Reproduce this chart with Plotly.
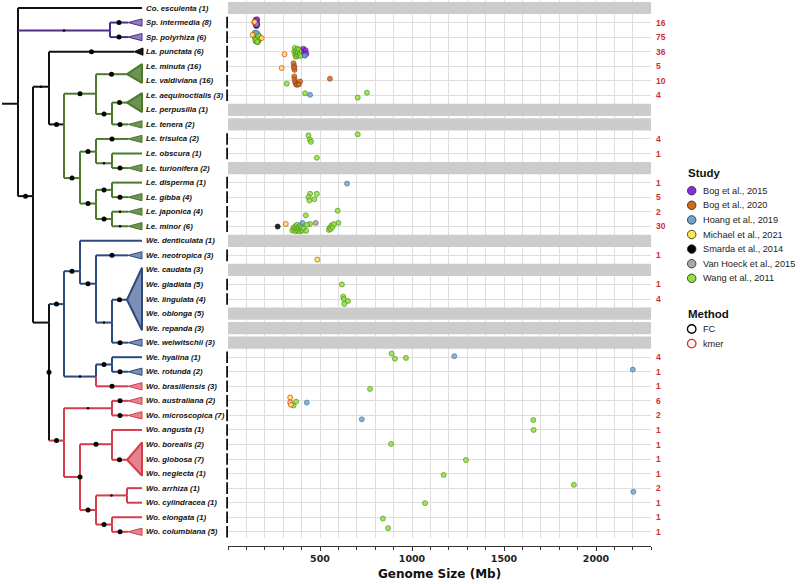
import plotly.graph_objects as go

# ---------------- data ----------------
species = ["Co. esculenta", "Sp. intermedia", "Sp. polyrhiza", "La. punctata", "Le. minuta",
           "Le. valdiviana", "Le. aequinoctialis", "Le. perpusilla", "Le. tenera", "Le. trisulca",
           "Le. obscura", "Le. turionifera", "Le. disperma", "Le. gibba", "Le. japonica", "Le. minor",
           "We. denticulata", "We. neotropica", "We. caudata", "We. gladiata", "We. lingulata",
           "We. oblonga", "We. repanda", "We. welwitschii", "We. hyalina", "We. rotunda",
           "Wo. brasiliensis", "Wo. australiana", "Wo. microscopica", "Wo. angusta", "Wo. borealis",
           "Wo. globosa", "Wo. neglecta", "Wo. arrhiza", "Wo. cylindracea", "Wo. elongata",
           "Wo. columbiana"]
accessions = [1, 8, 6, 6, 16, 16, 3, 1, 2, 2, 1, 2, 1, 4, 4, 6, 1, 3, 3, 5, 4, 5, 3, 3, 1, 2,
              3, 2, 7, 1, 2, 7, 1, 1, 1, 1, 5]
sample_counts = [None, 16, 75, 36, 5, 10, 4, None, None, 4, 1, None, 1, 5, 2, 30, None, 1, None,
                 1, 4, None, None, None, 4, 1, 1, 6, 2, 1, 1, 1, 1, 2, 1, 1, 1]
leaf_clade = ["black", "purple", "purple", "black"] + ["green"] * 12 + ["blue"] * 10 + ["red"] * 11
leaf_parent = ["root", "spiro", "spiro", "lale", "unin", "unin", "aeqc", "aeqc", "alat", "A", "OT",
               "OT", "DG", "DG", "JM", "JM", "E", "D", "bigWe", "bigWe", "bigWe", "bigWe", "bigWe",
               "C", "HR", "HR", "HRB", "AM", "AM", "AG", "bigWo", "bigWo", "bigWo", "AC", "AC",
               "EC", "EC"]
leaf_support = ["", "big", "big", "big", "", "", "", "", "big", "big", "", "big", "", "big", "tiny",
                "tiny", "", "big", "", "", "", "", "", "big", "", "big", "big", "big", "big", "",
                "", "", "", "", "", "", "big"]

# internal tree nodes (depth in tree units, position in row units)
tn_id = ["root", "spiro", "ingroup", "lale", "lemna", "lemU", "unin", "alat", "aeqc", "lemL", "A",
         "OT", "B", "DG", "JM", "wolff", "wella", "E", "D", "C", "bigWe", "HRB", "HR", "wolffia",
         "AM", "F", "AG", "bigWo", "G", "AC", "EC"]
tn_parent = [None, "root", "root", "ingroup", "lale", "lemna", "lemU", "lemU", "alat", "lemna",
             "lemL", "A", "lemL", "B", "B", "ingroup", "wolff", "wella", "E", "D", "C", "wella",
             "HRB", "wolff", "wolffia", "wolffia", "F", "AG", "F", "G", "G"]
tn_depth = [18, 110, 33, 49, 64, 96, 127, 112, 127, 80, 96, 112, 96, 112, 112, 49, 64, 80, 96, 112,
            127, 96, 112, 64, 112, 80, 112, 127, 96, 127, 112]
tn_row = [6.58, 1.55, 12.93, 5.41, 8.0, 5.89, 4.55, 7.28, 6.5, 11.69, 9.87, 10.67, 13.44, 12.5,
          14.5, 21.62, 20.35, 18.09, 18.95, 21.62, 20.05, 25.33, 24.5, 29.73, 27.5, 32.23, 29.98,
          31.05, 34.5, 33.5, 35.5]
tn_clade = ["black", "purple", "black", "black", "black", "green", "green", "green", "green",
            "green", "green", "green", "green", "green", "green", "black", "blue", "blue", "blue",
            "blue", "blue", "blue", "blue", "red", "red", "red", "red", "red", "red", "red", "red"]
tn_link = ["black", "black", "black", "black", "black", "green", "green", "green", "green", "green",
           "green", "green", "green", "green", "green", "black", "black", "blue", "blue", "blue",
           "blue", "blue", "blue", "black", "red", "red", "red", "red", "red", "red", "red"]
tn_support = ["", "tiny", "big", "tiny", "big", "big", "big", "big", "big", "big", "big", "tiny",
              "big", "big", "big", "node", "big", "big", "big", "tiny", "big", "tiny", "big", "big",
              "tiny", "node", "big", "big", "big", "tiny", "big"]
collapsed = ["unin", "aeqc", "bigWe", "bigWo"]

# genome size observations per study: species, size (Mb), vertical jitter (rows)
wang_sp = (["Sp. polyrhiza"] * 22 + ["La. punctata"] * 14 + ["Le. valdiviana"] + ["Le. aequinoctialis"] * 3
           + ["Le. trisulca"] * 4 + ["Le. obscura"] + ["Le. gibba"] * 5 + ["Le. japonica"] * 2
           + ["Le. minor"] * 26 + ["We. gladiata"] + ["We. lingulata"] * 4 + ["We. hyalina"] * 3
           + ["Wo. brasiliensis"] + ["Wo. australiana"] * 2 + ["Wo. microscopica", "Wo. angusta",
           "Wo. borealis", "Wo. globosa", "Wo. neglecta", "Wo. arrhiza", "Wo. cylindracea",
           "Wo. elongata", "Wo. columbiana"])
wang_mb = ([145, 148, 150, 152, 155, 157, 160, 162, 165, 168, 150, 153, 158, 163, 147, 156, 161, 166, 170, 151, 159, 164]
           + [360, 362, 365, 368, 370, 372, 375, 378, 380, 383, 386, 390, 395, 400]
           + [319] + [419, 705, 755] + [705, 437, 445, 451] + [483] + [446, 483, 437, 442, 469]
           + [596, 423]
           + [446, 600, 350, 355, 360, 365, 368, 372, 375, 378, 382, 385, 390, 393, 396, 400, 405,
              410, 425, 430, 548, 553, 558, 562, 568, 575]
           + [619] + [626, 629, 652, 632] + [889, 907, 967] + [772] + [370, 356]
           + [1659, 1661, 886, 1293, 1172, 1880, 1071, 842, 870])
wang_jit = ([-0.3, 0.1, -0.15, 0.3, 0.0, 0.2, -0.25, 0.35, 0.1, -0.1, 0.25, -0.05, 0.3, 0.15, 0.05, -0.2, 0.0, 0.25, 0.1, 0.2, 0.33, -0.12]
            + [0.0, -0.25, 0.2, 0.35, -0.1, 0.1, 0.3, -0.2, 0.05, 0.25, -0.15, 0.15, 0.3, -0.05]
            + [0.2] + [-0.14, 0.16, -0.18] + [-0.32, -0.25, 0.05, 0.2] + [0.29]
            + [-0.23, -0.23, 0.0, 0.23, 0.14] + [-0.07, 0.25]
            + [-0.16, -0.23, 0.3, 0.1, 0.25, 0.0, 0.35, 0.15, -0.1, 0.3, 0.05, 0.2, 0.35, -0.05,
               0.25, 0.1, 0.3, 0.15, 0.32, -0.1, 0.25, 0.1, 0.2, -0.05, 0.05, -0.15]
            + [0.0] + [-0.16, 0.0, 0.14, 0.34] + [-0.25, 0.1, 0.05] + [0.18] + [0.05, 0.32]
            + [0.32, 0.0, -0.04, 0.07, 0.09, -0.23, 0.03, 0.09, -0.25])

bog15_sp = ["Sp. intermedia"] * 13 + ["La. punctata"] * 5
bog15_mb = [150, 153, 156, 158, 152, 155, 157, 154, 159, 151, 156, 153, 158, 410, 414, 418, 422, 426]
bog15_jit = [-0.2, -0.1, 0.0, 0.1, 0.2, 0.25, -0.15, 0.05, 0.15, -0.05, 0.18, 0.12, -0.22,
             -0.2, 0.05, 0.25, -0.1, 0.15]

bog20_sp = ["Le. minuta"] * 4 + ["Le. valdiviana"] * 9
bog20_mb = [356, 360, 362, 358, 360, 362, 365, 370, 380, 392, 375, 385, 554]
bog20_jit = [-0.2, 0.0, 0.25, 0.1, -0.3, -0.1, 0.1, 0.25, 0.2, 0.05, 0.28, 0.25, -0.14]

hoang_sp = ["Sp. intermedia", "Sp. polyrhiza", "La. punctata", "Le. aequinoctialis", "Le. disperma",
            "Le. minor", "We. hyalina", "We. rotunda", "Wo. australiana", "Wo. microscopica",
            "Wo. arrhiza"]
hoang_mb = [154, 152, 417, 446, 647, 404, 1230, 2200, 428, 727, 2203]
hoang_jit = [0.1, -0.3, 0.27, -0.03, 0.07, -0.23, -0.07, -0.15, 0.12, 0.27, 0.25]

michael_sp = ["Sp. intermedia", "Sp. intermedia", "Sp. polyrhiza", "Sp. polyrhiza", "La. punctata",
              "Le. minuta", "Le. minor", "We. neotropica", "Wo. australiana", "Wo. australiana",
              "Wo. australiana"]
michael_mb = [142, 145, 134, 183, 307, 292, 314, 486, 338, 338, 342]
michael_jit = [0.0, -0.05, -0.16, 0.07, 0.18, 0.13, -0.16, 0.29, -0.23, 0.12, 0.27]

smarda_sp = ["Le. minor"]
smarda_mb = [270]
smarda_jit = [0.02]

vanhoeck_sp = ["Le. minor"]
vanhoeck_mb = [477]
vanhoeck_jit = [-0.23]

study_names = ["Bog et al., 2015", "Bog et al., 2020", "Hoang et al., 2019", "Michael et al., 2021",
               "Smarda et al., 2014", "Van Hoeck et al., 2015", "Wang et al., 2011"]
study_colors = ["#8a2be2", "#d2691e", "#6ca6d6", "#ffe84a", "#000000", "#a8a8a8", "#8fe33a"]
study_edge = ["#4a1580", "#8a4010", "#3d6f99", "#e0a020", "#000000", "#606060", "#4d8a1a"]
study_method = ["FC", "FC", "FC", "kmer", "FC", "FC", "FC"]
method_names = ["FC", "kmer"]
method_colors = ["#000000", "#d62828"]

x_ticks = [500, 1000, 1500, 2000]
x_max = 2300

# ---------------- styles ----------------
clade_line = {"black": "#111111", "purple": "#4e2d8a", "green": "#4a7a2a", "blue": "#2c4a7e", "red": "#d43d4c"}
clade_fill = {"black": "#111111", "purple": "#8c7cc0", "green": "#6c9354", "blue": "#7c8fb6", "red": "#e4838b"}
GRID = "#dedede"
W, H = 800, 584
PX0, PX1 = 228.0, 651.2         # data panel left/right (px)
ROW0, ROWSTEP = 8.0, 14.55      # row centre px
AXIS_Y = 546.0
y_top = -ROW0 / ROWSTEP
y_bot = (AXIS_Y - ROW0) / ROWSTEP
ydom = [(H - AXIS_Y) / H, 1.0]
row_of = {s: i for i, s in enumerate(species)}

fig = go.Figure()

# ---------------- tree ----------------
node = {n: (tn_depth[i], tn_row[i]) for i, n in enumerate(tn_id)}
seg = {k: ([], []) for k in clade_line}
dots_big, dots_tiny = ([], []), ([], [])


def add_seg(col, x0, y0, x1, y1):
    seg[col][0].extend([x0, x1, None])
    seg[col][1].extend([y0, y1, None])


def add_dot(kind, x, y):
    tgt = dots_big if kind in ("big", "node") else dots_tiny
    tgt[0].append(x)
    tgt[1].append(y)


# root stem
add_seg("black", 2, tn_row[0], tn_depth[0], tn_row[0])
for i, nid in enumerate(tn_id):
    par = tn_parent[i]
    if par is None:
        continue
    px, py = node[par]
    x, y = tn_depth[i], tn_row[i]
    add_seg(tn_link[i], px, py, px, y)
    add_seg(tn_clade[i], px, y, x, y)
    if tn_support[i] in ("big", "tiny"):
        add_dot(tn_support[i], (px + x) / 2, y)
    elif tn_support[i] == "node":
        kids = [tn_row[j] for j in range(len(tn_id)) if tn_parent[j] == nid]
        add_dot("node", x, sum(kids) / len(kids))

tri_small = {k: ([], []) for k in clade_line}
tri_big = {k: ([], []) for k in clade_line}
BASE_X = 142
for i, sp in enumerate(species):
    par = leaf_parent[i]
    if par in collapsed:
        continue
    px, py = node[par]
    col = leaf_clade[i]
    if accessions[i] > 1:
        tip = 134 if sp == "La. punctata" else 128
        base = 143 if sp == "La. punctata" else BASE_X
        tri_small[col][0].extend([tip, base, base, tip, None])
        tri_small[col][1].extend([i, i - 0.25, i + 0.25, i, None])
    else:
        tip = BASE_X
    add_seg(col, px, py, px, i)
    add_seg(col, px, i, tip, i)
    if leaf_support[i]:
        add_dot(leaf_support[i], (px + tip) / 2, i)

for g in collapsed:
    rows = [i for i in range(len(species)) if leaf_parent[i] == g]
    gi = tn_id.index(g)
    col = tn_clade[gi]
    tx, ty = node[g]
    tri_big[col][0].extend([tx, BASE_X, BASE_X, tx, None])
    tri_big[col][1].extend([ty, min(rows) - 0.15, max(rows) + 0.15, ty, None])

for col, (xs, ys) in seg.items():
    if xs:
        fig.add_trace(go.Scatter(x=xs, y=ys, mode="lines", xaxis="x2", yaxis="y2",
                                 line=dict(color=clade_line[col], width=2), hoverinfo="skip"))
for tri, lw in ((tri_small, 1), (tri_big, 2)):
    for col, (xs, ys) in tri.items():
        if xs:
            fig.add_trace(go.Scatter(x=xs, y=ys, mode="lines", fill="toself", xaxis="x2", yaxis="y2",
                                     fillcolor=clade_fill[col],
                                     line=dict(color=clade_line[col], width=lw), hoverinfo="skip"))
fig.add_trace(go.Scatter(x=dots_big[0], y=dots_big[1], mode="markers", xaxis="x2", yaxis="y2",
                         marker=dict(color="black", size=5), hoverinfo="skip"))
fig.add_trace(go.Scatter(x=dots_tiny[0], y=dots_tiny[1], mode="markers", xaxis="x2", yaxis="y2",
                         marker=dict(color="black", size=2.5), hoverinfo="skip"))

# facet left axis marks for rows with data
fx, fy = [], []
for i, c in enumerate(sample_counts):
    if c is not None:
        fx.extend([PX0 - 0.8, PX0 - 0.8, None])
        fy.extend([i - 0.4, i + 0.4, None])
fig.add_trace(go.Scatter(x=fx, y=fy, mode="lines", xaxis="x2", yaxis="y2", cliponaxis=False,
                         line=dict(color="#111111", width=2), hoverinfo="skip"))

# species labels
annotations = []
for i, sp in enumerate(species):
    annotations.append(dict(x=143.5, y=i, xref="x2", yref="y2", xanchor="left", yanchor="middle",
                            showarrow=False, text=f"{sp} ({accessions[i]})",
                            font=dict(family="Liberation Sans, Arial", size=7.8, color="#111111",
                                      style="italic", weight="bold")))

# ---------------- grey bars (no data) and bottom gap ----------------
shapes = []
for i, c in enumerate(sample_counts):
    if c is None:
        shapes.append(dict(type="rect", xref="x", yref="y", x0=0, x1=x_max, y0=i - 0.42, y1=i + 0.42,
                           fillcolor="#cccccc", line=dict(width=0), layer="between"))
shapes.append(dict(type="rect", xref="x", yref="y", x0=0, x1=x_max, y0=len(species) - 0.55, y1=y_bot,
                   fillcolor="white", line=dict(width=0), layer="between"))

# ---------------- genome size points ----------------
study_data = [(bog15_sp, bog15_mb, bog15_jit), (bog20_sp, bog20_mb, bog20_jit),
              (hoang_sp, hoang_mb, hoang_jit), (michael_sp, michael_mb, michael_jit),
              (smarda_sp, smarda_mb, smarda_jit), (vanhoeck_sp, vanhoeck_mb, vanhoeck_jit),
              (wang_sp, wang_mb, wang_jit)]
draw_order = [6, 1, 0, 5, 4, 2, 3]
for k in draw_order:
    sps, mbs, jits = study_data[k]
    edge = method_colors[1] if study_method[k] == "kmer" else study_edge[k]
    fig.add_trace(go.Scatter(
        x=mbs, y=[row_of[s] + j for s, j in zip(sps, jits)], mode="markers", name=study_names[k],
        marker=dict(color=study_colors[k], size=5, opacity=0.85, line=dict(color=edge, width=0.8)),
        xaxis="x", yaxis="y"))

# sample counts (red, right)
for i, c in enumerate(sample_counts):
    if c is not None:
        annotations.append(dict(x=654 / W, y=i, xref="paper", yref="y", xanchor="left", yanchor="middle",
                                showarrow=False, text=str(c),
                                font=dict(family="Liberation Sans, Arial", size=8.5, color="#cc2f36",
                                          weight="bold")))

# ---------------- legend (drawn on a helper axis in px units) ----------------
LEG_X = 691.7
study_y0, step = 190.7, 14.6
leg_y = [study_y0 + step * k for k in range(len(study_names))]
fig.add_trace(go.Scatter(x=[LEG_X] * len(study_names), y=leg_y, mode="markers", xaxis="x3", yaxis="y3",
                         marker=dict(color=study_colors, size=8.5, line=dict(color="#222222", width=0.8)),
                         hoverinfo="skip"))
meth_y = [329, 343.6]
fig.add_trace(go.Scatter(x=[LEG_X] * 2, y=meth_y, mode="markers", xaxis="x3", yaxis="y3",
                         marker=dict(color="white", size=8.5, line=dict(color=method_colors, width=1.3)),
                         hoverinfo="skip"))
annotations.append(dict(x=686, y=173, xref="x3", yref="y3", xanchor="left", yanchor="middle",
                        showarrow=False, text="Study",
                        font=dict(family="Liberation Sans, Arial", size=11.5, color="#111", weight="bold")))
annotations.append(dict(x=686, y=314, xref="x3", yref="y3", xanchor="left", yanchor="middle",
                        showarrow=False, text="Method",
                        font=dict(family="Liberation Sans, Arial", size=11.5, color="#111", weight="bold")))
for name, yy in list(zip(study_names, leg_y)) + list(zip(method_names, meth_y)):
    annotations.append(dict(x=700.5, y=yy, xref="x3", yref="y3", xanchor="left", yanchor="middle",
                            showarrow=False, text=name,
                            font=dict(family="Liberation Sans, Arial", size=9.2, color="#222")))

# ---------------- layout ----------------
fig.update_layout(
    width=W, height=H, margin=dict(l=0, r=0, t=0, b=0),
    paper_bgcolor="white", plot_bgcolor="rgba(0,0,0,0)", showlegend=False,
    xaxis=dict(domain=[PX0 / W, PX1 / W], range=[0, x_max], anchor="y",
               tickvals=x_ticks, ticks="outside", ticklen=4, tickwidth=1, tickcolor="#333",
               showline=True, linecolor="#333", linewidth=1, zeroline=False,
               showgrid=True, gridcolor=GRID, gridwidth=1,
               minor=dict(dtick=100, tick0=0, ticks="outside", ticklen=2.5, tickcolor="#333",
                          showgrid=True, gridcolor=GRID, gridwidth=1),
               tickfont=dict(family="DejaVu Sans", size=9.5, color="#222", weight="bold"),
               title=dict(text="Genome Size (Mb)", standoff=6,
                          font=dict(family="DejaVu Sans", size=12, color="#111", weight="bold"))),
    yaxis=dict(domain=ydom, range=[y_bot, y_top], anchor="x", tickvals=list(range(len(species))),
               showticklabels=False, ticks="", showgrid=True, gridcolor=GRID, gridwidth=1,
               zeroline=False, showline=False),
    xaxis2=dict(domain=[0, PX0 / W], range=[0, PX0], anchor="y2", visible=False),
    yaxis2=dict(domain=ydom, range=[y_bot, y_top], anchor="x2", visible=False),
    xaxis3=dict(domain=[660 / W, 1], range=[660, W], anchor="y3", visible=False),
    yaxis3=dict(domain=[0, 1], range=[H, 0], anchor="x3", visible=False),
    shapes=shapes, annotations=annotations,
)

fig.write_html("out.html", config={"displayModeBar": False},
               post_script="document.body.style.margin='0px';")
